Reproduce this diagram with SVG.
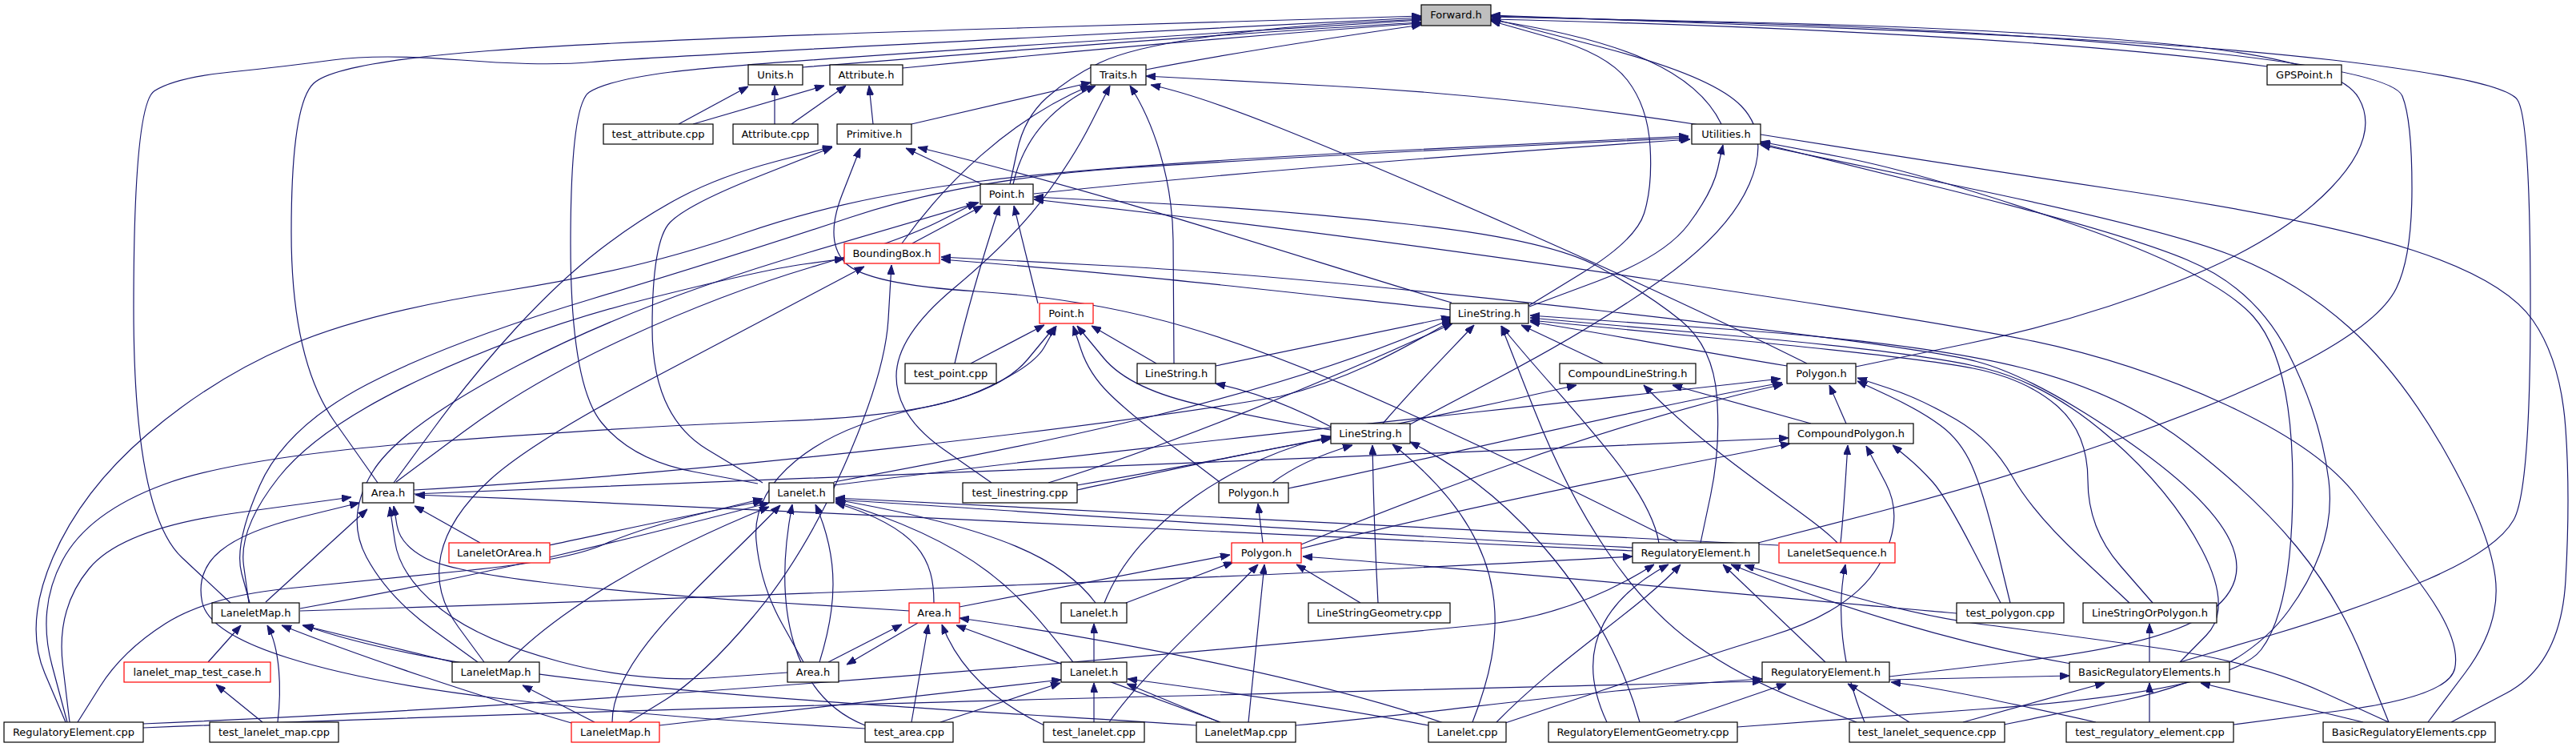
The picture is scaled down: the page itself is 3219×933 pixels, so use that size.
<svg xmlns="http://www.w3.org/2000/svg" width="3219" height="933" viewBox="0 0 3219 933">
<defs>
<marker id="a" viewBox="0 0 12 9" refX="12" refY="4.5" markerWidth="12" markerHeight="9" markerUnits="userSpaceOnUse" orient="auto"><path d="M0,0 L12,4.5 L0,9 z" fill="#191970" stroke="#191970" stroke-width="1"/></marker>
</defs>
<style>
.n rect{fill:#fff;stroke:#000;stroke-width:1.2}
.r rect{stroke:#ff0000}
.g rect{fill:#bfbfbf}
text{font-family:"DejaVu Sans","Liberation Sans",sans-serif;font-size:13px;text-anchor:middle;fill:#000}
.e path{fill:none;stroke:#191970;stroke-width:1.2;marker-end:url(#a)}
</style>
<rect width="3219" height="933" fill="#fff"/>
<g id="edges" class="e">
<path d="M1003,84 C1300,60 1600,38 1776,28"/>
<path d="M1128,85 C1400,58 1650,38 1776,29"/>
<path d="M1432,87 C1560,62 1700,42 1776,31"/>
<path d="M2833,83 C2600,50 2200,32 1863,24"/>
<path d="M2151,155 C2120,90 2030,50 1863,25"/>
<path d="M1262,230 L1271,188.5 Q1280,147 1308,122 Q1336,97 1374,78.5 Q1412,60 1506,46.5 Q1600,33 1688,28.5 L1776,24"/>
<path d="M1910,382 L1977,341 Q2044,300 2054.5,266.5 Q2065,233 2062,183 Q2059,133 2033.5,100 Q2008,67 1935.5,46.5 L1863,26"/>
<path d="M1762,530 L1876,470 Q1990,410 2075,350 Q2160,290 2186,230 Q2212,170 2176,132.5 Q2140,95 2001.5,59 L1863,23"/>
<path d="M2319,458 L2459.5,429 Q2600,400 2725,350 Q2850,300 2912.5,235 Q2975,170 2947.5,122.5 Q2920,75 2710,55 Q2500,35 2181.5,28 L1863,21"/>
<path d="M2197,678 L2348.5,639 Q2500,600 2650,547.5 Q2800,495 2887.5,447.5 Q2975,400 2994.5,360 Q3014,320 3014,235 Q3014,150 3002,120 Q2990,90 2745,64 Q2500,38 2181.5,29 L1863,20"/>
<path d="M2724,827 L2837,793.5 Q2950,760 3035,723 Q3120,686 3141,649.5 Q3162,613 3162,381.5 Q3162,150 3146,125 Q3130,100 2915,75 Q2700,50 2281.5,34.5 L1863,19"/>
<path d="M472,603 L418,526.5 Q364,450 364,290 Q364,130 392,104 Q420,78 610,63.5 Q800,49 1288,34.5 L1776,20"/>
<path d="M288,753 L227.5,696.5 Q167,640 167,385 Q167,130 193,113.5 Q219,97 288,90 Q357,83 415.5,75 Q474,67 576.5,75 Q679,83 739.5,77.5 Q800,72 1288,47 L1776,22"/>
<path d="M947,604 L868.5,589.5 Q790,575 751.5,527.5 Q713,480 713,305 Q713,130 736.5,115 Q760,100 838.5,90 Q917,80 1346.5,52.5 L1776,25"/>
<path d="M848,155 L935,108"/>
<path d="M866,155 L1030,107"/>
<path d="M968,155 L968,107"/>
<path d="M989,155 L1057,107"/>
<path d="M1091,155 L1086,107"/>
<path d="M1139,155 L1363,103"/>
<path d="M1127,304 C1180,230 1260,150 1362,107"/>
<path d="M1266,230 C1275,190 1300,140 1369,107"/>
<path d="M1239,603 L1179.5,561.5 Q1120,520 1120,470 Q1120,420 1192,360 Q1264,300 1302,250 Q1340,200 1363.5,153.5 L1387,107"/>
<path d="M1467,454 L1466,300 C1465,220 1440,150 1412,107"/>
<path d="M2258,454 C2050,350 1750,220 1600,160 C1530,132 1480,115 1438,106"/>
<path d="M3063,902 L3131.5,866 Q3200,830 3206,725 Q3212,620 3206,535 Q3200,450 3165,400 Q3130,350 3015,312.5 Q2900,275 2650,237.5 Q2400,200 2150,160 Q1900,120 1666,107.5 L1432,95"/>
<path d="M492,603 L542,535 Q592,467 646,408.5 Q700,350 750,311.5 Q800,273 850,246.5 Q900,220 970,201.5 L1040,183"/>
<path d="M953,603 L884,561.5 Q815,520 815,410 Q815,300 837.5,277.5 Q860,255 950,219.5 L1040,184"/>
<path d="M2097,678 L1998.5,629 Q1900,580 1750,511.5 Q1600,443 1480.5,408 Q1361,373 1221,364 Q1081,355 1055.5,327.5 Q1030,300 1052.5,242.5 L1075,185"/>
<path d="M1229,231 L1132,185"/>
<path d="M1814,378 C1650,330 1400,245 1147,184"/>
<path d="M1292,242 C1500,220 1800,195 2112,174"/>
<path d="M1911,383 L1995.5,351.5 Q2080,320 2110,280 Q2140,240 2146.5,210.5 L2153,181"/>
<path d="M2171,908 L2478.5,885.5 Q2786,863 2825.5,811.5 Q2865,760 2865,605 Q2865,450 2815.5,395 Q2766,340 2583,277.5 Q2400,215 2300,196 L2200,177"/>
<path d="M2504,905 L2652,875 Q2800,845 2860,762.5 Q2920,680 2910,600 Q2900,520 2859,440 Q2818,360 2734,325 Q2650,290 2425,234.5 L2200,179"/>
<path d="M3034,902 L3080,841 Q3126,780 3118,720 Q3110,660 3055,563.5 Q3000,467 2935,408.5 Q2870,350 2785,317.5 Q2700,285 2450,233 L2200,181"/>
<path d="M2791,905 L2925.5,887.5 Q3060,870 3067.5,835 Q3075,800 3032.5,740 Q2990,680 2945,620 Q2900,560 2780.5,505 Q2661,450 2530.5,424 Q2400,398 2064,349 Q1728,300 1510,274.5 L1292,249"/>
<path d="M82,902 L56,841 Q30,780 66,696.5 Q102,613 183.5,543 Q265,473 362,431.5 Q459,390 629.5,363.5 Q800,337 927.5,292 Q1055,247 1227.5,226 Q1400,205 1755,187.5 L2110,170"/>
<path d="M312,753 L302,716.5 Q292,680 324.5,606.5 Q357,533 459,480 Q561,427 739,373.5 Q917,320 1062.5,271.5 Q1208,223 1404,210 Q1600,197 1855,184.5 L2110,172"/>
<path d="M311,753 L304.5,706.5 Q298,660 348,596.5 Q398,533 530.5,471.5 Q663,410 808,373.5 Q953,337 1004,330 L1055,323"/>
<path d="M605,827 L573,783.5 Q541,740 551,693 Q561,646 612,599.5 Q663,553 808,476.5 Q953,400 1016.5,366.5 L1080,333"/>
<path d="M786,902 L831.5,874 Q877,846 940.5,771 Q1004,696 1055,581.5 Q1106,467 1110,399 L1114,331"/>
<path d="M1814,387 C1650,370 1450,345 1176,324"/>
<path d="M2361,845 L2530.5,825 Q2700,805 2756.5,767.5 Q2813,730 2786.5,675 Q2760,620 2650,545 Q2540,470 2470,451.5 Q2400,433 2000,388 Q1600,343 1388,332 L1176,321"/>
<path d="M2985,902 L2953.5,824 Q2922,746 2870,683 Q2818,620 2734,555 Q2650,490 2525,459 Q2400,428 2156,411 L1912,394"/>
<path d="M2724,827 L2757,793.5 Q2790,760 2751.5,686.5 Q2713,613 2636.5,546.5 Q2560,480 2480,460 Q2400,440 2156,418.5 L1912,397"/>
<path d="M2690,753 L2649.5,706.5 Q2609,660 2609,600 Q2609,540 2570,506.5 Q2531,473 2465.5,460 Q2400,447 2156,423.5 L1912,400"/>
<path d="M2661,753 L2600.5,696.5 Q2540,640 2514.5,595 Q2489,550 2444.5,524 Q2400,498 2360.5,485 L2321,472"/>
<path d="M2512,753 L2495,683 Q2478,613 2464,581.5 Q2450,550 2425,531.5 Q2400,513 2360.5,494.5 L2321,476"/>
<path d="M2500,753 L2465.5,686.5 Q2431,620 2415.5,602.5 Q2400,585 2382.5,570.5 L2365,556"/>
<path d="M2445,766 C2200,745 1900,715 1628,695"/>
<path d="M2686,827 L2686,779"/>
<path d="M2686,902 L2686,853"/>
<path d="M2453,902 L2630,853"/>
<path d="M2953,902 L2750,853"/>
<path d="M2588,829 C2450,805 2300,760 2163,705"/>
<path d="M2281,827 L2153,705"/>
<path d="M2619,902 C2520,880 2420,858 2363,852"/>
<path d="M2361,849 L2586,844"/>
<path d="M2386,902 L2309,854"/>
<path d="M2092,902 L2232,854"/>
<path d="M1619,906 C1800,890 2000,860 2202,848"/>
<path d="M2330,902 C2300,830 2295,760 2306,705"/>
<path d="M2320,902 L2248,874 Q2176,846 2117.5,804.5 Q2059,763 2008,688 Q1957,613 1916.5,510 L1876,407"/>
<path d="M179,904 C800,878 1500,815 1855,780 C1950,770 2020,735 2067,705"/>
<path d="M179,909 C800,884 1600,866 2202,851"/>
<path d="M87,902 L78.5,831 Q70,760 111.5,710 Q153,660 296,640.5 L439,621"/>
<path d="M97,902 L125,857.5 Q153,813 206.5,779 Q260,745 359.5,735 Q459,725 584,712.5 Q709,700 754.5,680 Q800,660 876.5,641.5 L953,623"/>
<path d="M84,902 L65,831 Q46,760 78,700 Q110,640 205,605 Q300,570 550,551 Q800,532 975,526 Q1150,520 1220,490 Q1290,460 1305,433.5 L1320,407"/>
<path d="M332,752 L459,636"/>
<path d="M600,678 L518,632"/>
<path d="M686,681 C740,670 850,645 953,626"/>
<path d="M1137,763 L968.5,752.5 Q800,742 680.5,727.5 Q561,713 530.5,696.5 Q500,680 496,656 L492,632"/>
<path d="M984,840 L892,846.5 Q800,853 700,826.5 Q600,800 550,760 Q500,720 493.5,676.5 L487,633"/>
<path d="M1081,910 L940.5,901.5 Q800,893 629.5,873 Q459,853 359.5,821.5 Q260,790 252.5,751.5 Q245,713 275.5,688 Q306,663 377.5,645.5 L449,628"/>
<path d="M2041,688 C1700,668 1100,640 519,618"/>
<path d="M517,612 C900,590 1400,530 1600,495 C1700,470 1770,425 1814,401"/>
<path d="M517,617 C900,605 1600,575 2235,547"/>
<path d="M495,602 L579,539.5 Q663,477 782.5,422 Q902,367 1014.5,333.5 Q1127,300 1173.5,276.5 L1220,253"/>
<path d="M1042,602 C1300,555 1600,495 1814,398"/>
<path d="M1042,606 C1400,560 1900,510 2225,473"/>
<path d="M1346,606 C1500,580 1800,520 1970,481"/>
<path d="M1310,603 C1450,560 1650,480 1815,404"/>
<path d="M1346,612 C1450,590 1580,560 1663,548"/>
<path d="M1445,454 L1364,407"/>
<path d="M1519,457 C1600,440 1700,420 1813,396"/>
<path d="M1213,454 L1305,406"/>
<path d="M1193,454 C1210,380 1235,300 1249,257"/>
<path d="M1297,379 C1285,330 1275,290 1267,257"/>
<path d="M1140,304 L1228,257"/>
<path d="M1663,533 C1620,510 1570,490 1519,479"/>
<path d="M1663,537 L1631.5,532 Q1600,527 1506,507 Q1412,487 1379,447 L1346,407"/>
<path d="M1728,529 C1770,480 1810,440 1842,406"/>
<path d="M2003,454 L1901,406"/>
<path d="M2233,457 C2100,435 1980,412 1912,402"/>
<path d="M2307,529 L2286,481"/>
<path d="M2263,529 L2090,481"/>
<path d="M2296,678 C2260,640 2150,580 2054,481"/>
<path d="M2300,678 C2304,640 2306,600 2309,556"/>
<path d="M2222,681 C1900,665 1400,640 1044,622"/>
<path d="M1881,903 L1995.5,864.5 Q2110,826 2212,794.5 Q2314,763 2347.5,706.5 Q2381,650 2356.5,603.5 L2332,557"/>
<path d="M2125,678 L2137.5,619 Q2150,560 2145.5,496.5 Q2141,433 2100,400 Q2059,367 1998,333.5 Q1937,300 1768.5,281 Q1600,262 1446,254 L1292,246"/>
<path d="M2073,678 C2060,600 1950,500 1876,407"/>
<path d="M2041,684 C1700,668 1300,640 1044,624"/>
<path d="M1524,602 L1468,559.5 Q1412,517 1386.5,492 Q1361,467 1351,437 L1341,407"/>
<path d="M1590,603 C1620,580 1660,565 1690,556"/>
<path d="M1610,610 C1800,570 2050,510 2227,478"/>
<path d="M1578,678 L1572,629"/>
<path d="M1626,680 C1750,630 2000,530 2228,480"/>
<path d="M1626,685 C1800,640 2050,590 2237,554"/>
<path d="M1199,758 L1537,693"/>
<path d="M1407,753 L1541,702"/>
<path d="M1700,753 L1620,705"/>
<path d="M1722,753 C1718,680 1716,610 1715,556"/>
<path d="M1386,902 C1430,840 1500,780 1572,705"/>
<path d="M1560,902 L1580,705"/>
<path d="M1035,827 L1127,780"/>
<path d="M1147,778 L1058,830"/>
<path d="M1139,902 L1160,780"/>
<path d="M1305,906 C1250,880 1200,840 1177,780"/>
<path d="M1525,902 L1195,781"/>
<path d="M1804,903 C1650,850 1400,800 1199,772"/>
<path d="M1167,753 C1167,700 1150,660 1044,628"/>
<path d="M1369,753 C1330,700 1250,660 1044,624"/>
<path d="M1341,827 C1280,750 1230,680 1044,626"/>
<path d="M1367,827 L1367,779"/>
<path d="M1367,902 L1367,853"/>
<path d="M1175,902 L1325,853"/>
<path d="M824,906 L1326,849"/>
<path d="M1524,902 L1408,854"/>
<path d="M1785,906 C1650,880 1500,860 1409,848"/>
<path d="M1024,827 C1045,760 1050,700 1019,630"/>
<path d="M1004,827 L977,778.5 Q950,730 945,675 Q940,620 995,575 Q1050,530 1150,510 Q1250,490 1284,449 L1318,408"/>
<path d="M1380,753 C1420,650 1550,570 1663,545"/>
<path d="M1081,906 C990,870 965,760 990,630"/>
<path d="M765,902 C765,820 880,730 975,631"/>
<path d="M635,827 C700,760 820,690 961,633"/>
<path d="M566,827 L378,781"/>
<path d="M743,902 L653,856"/>
<path d="M714,903 C600,870 450,820 352,781"/>
<path d="M1495,906 C1100,880 600,860 380,781"/>
<path d="M260,827 L301,781"/>
<path d="M328,902 L270,855"/>
<path d="M347,902 C352,860 350,810 334,781"/>
<path d="M597,827 L541,786.5 Q485,746 458,696 Q431,646 465.5,589.5 Q500,533 650,455 Q800,377 1011.5,315 L1223,253"/>
<path d="M2049,902 C2010,760 1900,620 1762,552"/>
<path d="M2008,902 C1960,800 2020,740 2085,705"/>
<path d="M1870,902 C1950,820 2050,760 2100,705"/>
<path d="M1840,902 C1880,800 1900,680 1740,555"/>
<path d="M2985,902 L2901.5,864 Q2818,826 2687.5,808 Q2557,790 2478.5,780 Q2400,770 2290,738 L2180,706"/>
<path d="M375,763 C800,750 1600,720 2040,695"/>
<path d="M375,760 C600,720 800,670 961,628"/>
</g>
<g id="n_forward" class="n g"><rect x="1776" y="6" width="87" height="26"/><text x="1819.5" y="23">Forward.h</text></g>
<g id="n_units" class="n"><rect x="935" y="81" width="68" height="25"/><text x="969" y="98">Units.h</text></g>
<g id="n_attribute" class="n"><rect x="1037" y="81" width="91" height="25"/><text x="1082.5" y="98">Attribute.h</text></g>
<g id="n_traits" class="n"><rect x="1363" y="81" width="69" height="25"/><text x="1397.5" y="98">Traits.h</text></g>
<g id="n_gpspoint" class="n"><rect x="2833" y="81" width="93" height="25"/><text x="2879.5" y="98">GPSPoint.h</text></g>
<g id="n_test_attribute" class="n"><rect x="754" y="155" width="137" height="25"/><text x="822.5" y="172">test_attribute.cpp</text></g>
<g id="n_attribute_cpp" class="n"><rect x="916" y="155" width="106" height="25"/><text x="969" y="172">Attribute.cpp</text></g>
<g id="n_primitive" class="n"><rect x="1046" y="155" width="93" height="25"/><text x="1092.5" y="172">Primitive.h</text></g>
<g id="n_utilities" class="n"><rect x="2114" y="155" width="86" height="25"/><text x="2157" y="172">Utilities.h</text></g>
<g id="n_point" class="n"><rect x="1225" y="230" width="66" height="25"/><text x="1258" y="247">Point.h</text></g>
<g id="n_boundingbox" class="n r"><rect x="1055" y="304" width="119" height="25"/><text x="1114.5" y="321">BoundingBox.h</text></g>
<g id="n_point_geo" class="n r"><rect x="1299" y="379" width="67" height="25"/><text x="1332.5" y="396">Point.h</text></g>
<g id="n_linestring" class="n"><rect x="1812" y="379" width="98" height="25"/><text x="1861" y="396">LineString.h</text></g>
<g id="n_test_point" class="n"><rect x="1131" y="454" width="114" height="25"/><text x="1188" y="471">test_point.cpp</text></g>
<g id="n_linestring_impl" class="n"><rect x="1421" y="454" width="98" height="25"/><text x="1470" y="471">LineString.h</text></g>
<g id="n_compoundlinestring" class="n"><rect x="1949" y="454" width="170" height="25"/><text x="2034" y="471">CompoundLineString.h</text></g>
<g id="n_polygon" class="n"><rect x="2233" y="454" width="86" height="25"/><text x="2276" y="471">Polygon.h</text></g>
<g id="n_linestring_geo" class="n"><rect x="1663" y="529" width="99" height="25"/><text x="1712.5" y="546">LineString.h</text></g>
<g id="n_compoundpolygon" class="n"><rect x="2235" y="529" width="156" height="25"/><text x="2313" y="546">CompoundPolygon.h</text></g>
<g id="n_area" class="n"><rect x="453" y="603" width="64" height="25"/><text x="485" y="620">Area.h</text></g>
<g id="n_lanelet" class="n"><rect x="961" y="603" width="81" height="25"/><text x="1001.5" y="620">Lanelet.h</text></g>
<g id="n_test_linestring" class="n"><rect x="1203" y="603" width="143" height="25"/><text x="1274.5" y="620">test_linestring.cpp</text></g>
<g id="n_polygon_impl" class="n"><rect x="1523" y="603" width="87" height="25"/><text x="1566.5" y="620">Polygon.h</text></g>
<g id="n_laneletorarea" class="n r"><rect x="561" y="678" width="126" height="25"/><text x="624" y="695">LaneletOrArea.h</text></g>
<g id="n_polygon_geo" class="n r"><rect x="1539" y="678" width="87" height="25"/><text x="1582.5" y="695">Polygon.h</text></g>
<g id="n_regelem" class="n"><rect x="2040" y="678" width="158" height="25"/><text x="2119" y="695">RegulatoryElement.h</text></g>
<g id="n_laneletsequence" class="n r"><rect x="2223" y="678" width="145" height="25"/><text x="2295.5" y="695">LaneletSequence.h</text></g>
<g id="n_laneletmap" class="n"><rect x="265" y="753" width="109" height="25"/><text x="319.5" y="770">LaneletMap.h</text></g>
<g id="n_area_geo" class="n r"><rect x="1136" y="753" width="63" height="25"/><text x="1167.5" y="770">Area.h</text></g>
<g id="n_lanelet_impl" class="n"><rect x="1326" y="753" width="82" height="25"/><text x="1367" y="770">Lanelet.h</text></g>
<g id="n_lsgeometry" class="n"><rect x="1635" y="753" width="177" height="25"/><text x="1723.5" y="770">LineStringGeometry.cpp</text></g>
<g id="n_test_polygon" class="n"><rect x="2445" y="753" width="134" height="25"/><text x="2512" y="770">test_polygon.cpp</text></g>
<g id="n_lsorpolygon" class="n"><rect x="2603" y="753" width="167" height="25"/><text x="2686.5" y="770">LineStringOrPolygon.h</text></g>
<g id="n_lmtestcase" class="n r"><rect x="155" y="827" width="183" height="25"/><text x="246.5" y="844">lanelet_map_test_case.h</text></g>
<g id="n_laneletmap_geo" class="n"><rect x="565" y="827" width="109" height="25"/><text x="619.5" y="844">LaneletMap.h</text></g>
<g id="n_area_impl" class="n"><rect x="984" y="827" width="64" height="25"/><text x="1016" y="844">Area.h</text></g>
<g id="n_lanelet_geo" class="n"><rect x="1326" y="827" width="82" height="25"/><text x="1367" y="844">Lanelet.h</text></g>
<g id="n_regelem_geo" class="n"><rect x="2202" y="827" width="159" height="25"/><text x="2281.5" y="844">RegulatoryElement.h</text></g>
<g id="n_basicregelems" class="n"><rect x="2586" y="827" width="200" height="25"/><text x="2686" y="844">BasicRegulatoryElements.h</text></g>
<g id="n_regelem_cpp" class="n"><rect x="5" y="902" width="174" height="25"/><text x="92" y="919">RegulatoryElement.cpp</text></g>
<g id="n_test_lanelet_map" class="n"><rect x="262" y="902" width="161" height="25"/><text x="342.5" y="919">test_lanelet_map.cpp</text></g>
<g id="n_laneletmap_impl" class="n r"><rect x="714" y="902" width="110" height="25"/><text x="769" y="919">LaneletMap.h</text></g>
<g id="n_test_area" class="n"><rect x="1081" y="902" width="110" height="25"/><text x="1136" y="919">test_area.cpp</text></g>
<g id="n_test_lanelet" class="n"><rect x="1304" y="902" width="126" height="25"/><text x="1367" y="919">test_lanelet.cpp</text></g>
<g id="n_laneletmap_cpp" class="n"><rect x="1495" y="902" width="124" height="25"/><text x="1557" y="919">LaneletMap.cpp</text></g>
<g id="n_lanelet_cpp" class="n"><rect x="1785" y="902" width="97" height="25"/><text x="1833.5" y="919">Lanelet.cpp</text></g>
<g id="n_regelemgeom_cpp" class="n"><rect x="1935" y="902" width="236" height="25"/><text x="2053" y="919">RegulatoryElementGeometry.cpp</text></g>
<g id="n_test_lanelet_sequence" class="n"><rect x="2311" y="902" width="194" height="25"/><text x="2408" y="919">test_lanelet_sequence.cpp</text></g>
<g id="n_test_regulatory_element" class="n"><rect x="2582" y="902" width="209" height="25"/><text x="2686.5" y="919">test_regulatory_element.cpp</text></g>
<g id="n_basicregelems_cpp" class="n"><rect x="2903" y="902" width="215" height="25"/><text x="3010.5" y="919">BasicRegulatoryElements.cpp</text></g>
</svg>
